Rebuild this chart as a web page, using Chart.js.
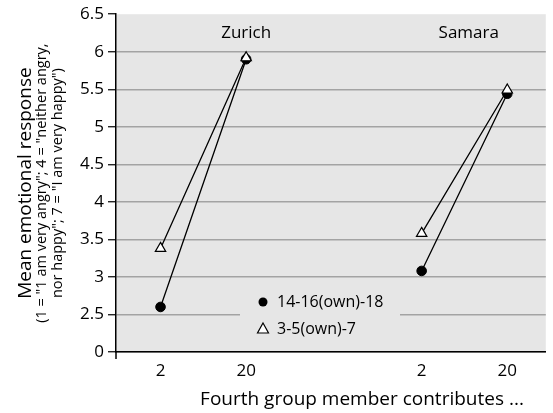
<!DOCTYPE html>
<html>
<head>
<meta charset="utf-8">
<script src="https://cdn.jsdelivr.net/npm/chart.js@4.4.0/dist/chart.umd.min.js"></script>
<style>
  html, body { margin: 0; padding: 0; background: #fff; }
</style>
</head>
<body>
<canvas id="chart" width="553" height="413"></canvas>
<script>
// values
const cities = ['Zurich', 'Samara'];
const contributions = ['2', '20', '2', '20'];
const ownHigh = [2.6, 5.9, 3.08, 5.44];   // 14-16(own)-18
const ownLow = [3.38, 5.92, 3.58, 5.49];  // 3-5(own)-7
const seriesNames = ['14-16(own)-18', '3-5(own)-7'];
const yTickValues = [2, 2.5, 3, 3.5, 4, 4.5, 5, 5.5, 6, 6.5];
const yTickLabels = ['0', '2.5', '3', '3.5', '4', '4.5', '5', '5.5', '6', '6.5'];

const FONT = '"Open Sans", sans-serif';
const CITY_GAP = 1.05;
const xPos = contributions.map((c, i) => i < 2 ? i + 1 : i + 1 + CITY_GAP);

function toPoints(vals) {
    const pts = [];
    vals.forEach((v, i) => {
        if (i === 2) pts.push({ x: (xPos[1] + xPos[2]) / 2, y: null });
        pts.push({ x: xPos[i], y: v });
    });
    return pts;
}

const decor = {
    id: 'decor',
    beforeDraw(chart) {
        const { ctx, chartArea: a } = chart;
        ctx.save();
        ctx.fillStyle = '#e6e6e6';
        ctx.fillRect(a.left, a.top, a.right - a.left, a.bottom - a.top);
        ctx.restore();
    },
    beforeDatasetsDraw(chart) {
        const { ctx } = chart;
        ctx.save();
        ctx.fillStyle = '#e6e6e6';
        ctx.fillRect(240, 284, 160, 64);
        ctx.restore();
    },
    afterDraw(chart) {
        const { ctx, chartArea: a, scales } = chart;
        const x = scales.x, y = scales.y;
        ctx.save();
        ctx.fillStyle = '#000';
        ctx.strokeStyle = '#000';

        // y axis stub below the x axis
        ctx.lineWidth = 1.5;
        ctx.beginPath();
        ctx.moveTo(a.left, a.bottom);
        ctx.lineTo(a.left, a.bottom + 7);
        ctx.stroke();

        // city labels
        ctx.font = '17px ' + FONT;
        ctx.textAlign = 'center';
        ctx.textBaseline = 'middle';
        ctx.fillText(cities[0], x.getPixelForValue(xPos[1]), y.getPixelForValue(6.25));
        ctx.fillText(cities[1], x.getPixelForValue(xPos[3] - 0.45), y.getPixelForValue(6.25));

        // x axis title
        ctx.font = '19px ' + FONT;
        ctx.fillText('Fourth group member contributes ...', 362, 400);

        // y axis title
        const cy = (a.top + a.bottom) / 2;
        ctx.translate(0, cy);
        ctx.rotate(-Math.PI / 2);
        ctx.font = '19px ' + FONT;
        ctx.fillText('Mean emotional response', 0, 26);
        ctx.font = '14.5px ' + FONT;
        ctx.fillText('(1 = "1 am very angry"; 4 = "neither angry,', 0, 42);
        ctx.fillText('nor happy"; 7 = "I am very happy")', 0, 58);
        ctx.restore();

        // legend
        ctx.save();
        ctx.font = '16px ' + FONT;
        ctx.textAlign = 'left';
        ctx.textBaseline = 'middle';
        ctx.fillStyle = '#000';
        ctx.beginPath();
        ctx.arc(263, 302, 4.5, 0, Math.PI * 2);
        ctx.fill();
        ctx.fillText(seriesNames[0], 277, 302);
        ctx.beginPath();
        ctx.moveTo(263, 323);
        ctx.lineTo(268.5, 333);
        ctx.lineTo(257.5, 333);
        ctx.closePath();
        ctx.fillStyle = '#fff';
        ctx.fill();
        ctx.lineWidth = 1.2;
        ctx.stroke();
        ctx.fillStyle = '#000';
        ctx.fillText(seriesNames[1], 277, 329);
        ctx.restore();
    }
};

new Chart(document.getElementById('chart'), {
    type: 'line',
    data: {
        datasets: [
            {
                label: seriesNames[1],
                data: toPoints(ownLow),
                pointStyle: 'triangle',
                pointRadius: 6,
                pointBackgroundColor: '#fff',
                pointBorderColor: '#000',
                pointBorderWidth: 1.2,
                borderColor: '#000',
                borderWidth: 1.3,
                order: 0
            },
            {
                label: seriesNames[0],
                data: toPoints(ownHigh),
                pointStyle: 'circle',
                pointRadius: 4.8,
                pointBackgroundColor: '#000',
                pointBorderColor: '#000',
                pointBorderWidth: 1,
                borderColor: '#000',
                borderWidth: 1.3,
                order: 1
            }
        ]
    },
    options: {
        responsive: false,
        animation: false,
        devicePixelRatio: 1,
        layout: { padding: { top: 12, left: 0, right: 0, bottom: 0 } },
        plugins: { legend: { display: false }, tooltip: { enabled: false } },
        scales: {
            x: {
                type: 'linear',
                min: 0.48,
                max: 5.5,
                grid: { display: false, drawTicks: false },
                border: { display: true, color: '#000', width: 1.5 },
                ticks: {
                    color: '#000',
                    font: { family: FONT, size: 17 },
                    padding: 9,
                    callback: (v) => {
                        const i = xPos.findIndex(p => Math.abs(p - v) < 1e-6);
                        return i >= 0 ? contributions[i] : '';
                    }
                },
                afterBuildTicks: (s) => { s.ticks = xPos.map(v => ({ value: v })); },
                afterFit: (s) => { s.height = 61; }
            },
            y: {
                type: 'linear',
                min: 2,
                max: 6.5,
                grid: {
                    color: (c) => c.tick && c.tick.value === 6.5 ? 'rgba(0,0,0,0)' : '#a3a3a3',
                    lineWidth: 1.5,
                    tickColor: '#000',
                    tickLength: 8,
                    tickWidth: 1.2
                },
                border: { display: true, color: '#000', width: 1.5 },
                ticks: {
                    color: '#000',
                    font: { family: FONT, size: 17 },
                    padding: 4,
                    callback: (v) => {
                        const i = yTickValues.findIndex(t => Math.abs(t - v) < 1e-6);
                        return i >= 0 ? yTickLabels[i] : '';
                    }
                },
                afterBuildTicks: (s) => { s.ticks = yTickValues.map(v => ({ value: v })); },
                afterFit: (s) => { s.width = 116; }
            }
        }
    },
    plugins: [decor]
});
</script>
</body>
</html>
